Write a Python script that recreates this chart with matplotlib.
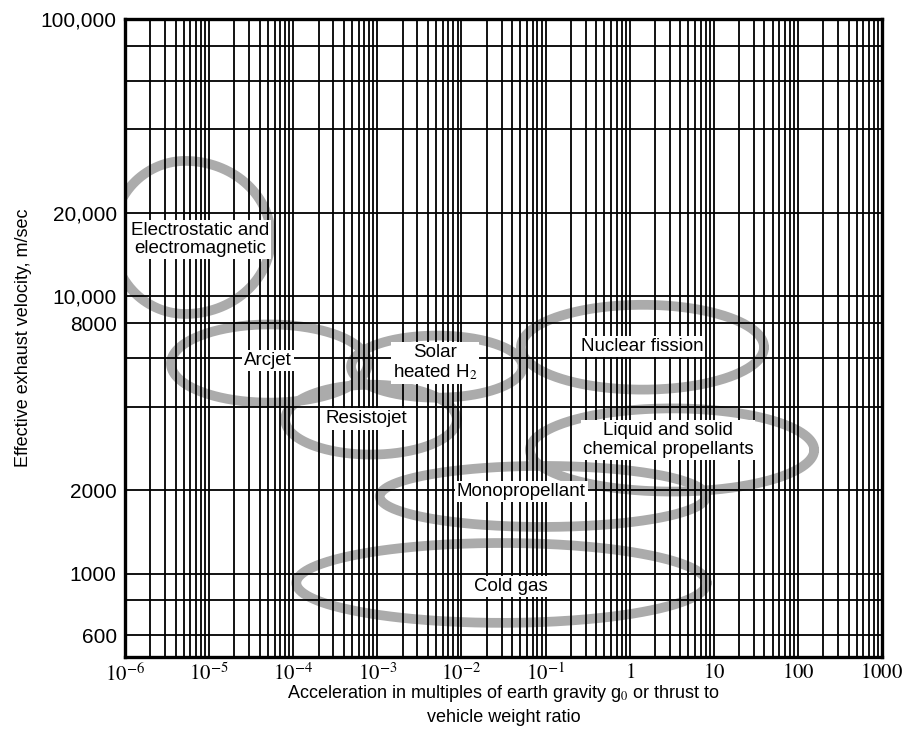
import numpy as np
import matplotlib
matplotlib.use("Agg")
import matplotlib.pyplot as plt
from matplotlib.ticker import LogLocator, NullFormatter

plt.rcParams['font.family'] = ['Liberation Sans', 'DejaVu Sans']
plt.rcParams['mathtext.fontset'] = 'stix'

# propulsion regimes: centre point and half-extent (in decades) of each region
names = ["Electrostatic and\nelectromagnetic", "Arcjet", "Resistojet",
         "Solar\nheated H$_2$", "Nuclear fission",
         "Liquid and solid\nchemical propellants", "Monopropellant", "Cold gas"]
center_acc = [5.2e-6, 5.2e-5, 8.4e-4, 5.1e-3, 1.42, 3.19, 0.093, 0.030]
center_vel = [16300, 5720, 3590, 5575, 6550, 2790, 1897, 925]
half_left = [0.87, 1.17, 1.02, 1.02, 1.445, 1.69, 1.94, 2.44]
half_right = [1.02, 1.17, 1.02, 1.02, 1.445, 1.69, 1.94, 2.44]
half_vert = [0.276, 0.141, 0.126, 0.112, 0.153, 0.150, 0.110, 0.144]

# where each region's name is written
label_acc = [7.8e-6, 5.0e-5, 7.35e-4, 4.85e-3, 1.40, 2.86, 0.0512, 0.0389]
label_vel = [16000, 5860, 3610, 5750, 6580, 3030, 1973, 895]

# axis ticks and grid
x_ticks = [1e-6, 1e-5, 1e-4, 1e-3, 1e-2, 1e-1, 1, 10, 100, 1000]
x_labels = ["$10^{-6}$", "$10^{-5}$", "$10^{-4}$", "$10^{-3}$", "$10^{-2}$",
            "$10^{-1}$", "$1$", "$10$", "$100$", "$1000$"]
y_ticks = [600, 1000, 2000, 8000, 10000, 20000, 100000]
y_labels = ["600", "1000", "2000", "8000", "10,000", "20,000", "100,000"]
y_grid = [600, 800, 1000, 2000, 4000, 6000, 8000, 10000, 20000, 40000, 60000, 80000]

fig = plt.figure(figsize=(9.06, 7.40), dpi=100)
ax = fig.add_axes([125/906, 1-657/740, 757/906, 638/740])
ax.set_xscale('log')
ax.set_yscale('log')
ax.set_xlim(1e-6, 1e3)
ax.set_ylim(500, 1e5)

# vertical grid: every 1..9 subdivision of each decade
ax.xaxis.set_major_locator(plt.FixedLocator(x_ticks))
ax.xaxis.set_minor_locator(LogLocator(base=10, subs=np.arange(2, 10), numticks=20))
ax.xaxis.set_minor_formatter(NullFormatter())
ax.grid(which='both', axis='x', color='black', lw=1.3, zorder=2)
for v in y_grid:
    ax.axhline(v, color='black', lw=1.3, zorder=2)

ax.set_xticks(x_ticks)
ax.set_xticklabels(x_labels, fontsize=15)
ax.set_yticks(y_ticks)
ax.set_yticklabels(y_labels, fontsize=15)
ax.yaxis.set_minor_locator(plt.NullLocator())
ax.tick_params(axis='x', which='both', length=0, pad=4)
ax.tick_params(axis='y', which='both', length=0, pad=6)
for s in ax.spines.values():
    s.set_linewidth(2.4)
    s.set_zorder(5)

# shaded bands around each regime, drawn in log space
t = np.linspace(0, 2*np.pi, 400)
for cx, cy, rl, rr, ry in zip(center_acc, center_vel, half_left, half_right, half_vert):
    r = np.where(np.cos(t) < 0, rl, rr)
    lx = np.log10(cx) + r*np.cos(t)
    ly = np.log10(cy) + ry*np.sin(t)
    ax.plot(10**lx, 10**ly, color='#ababab', lw=7, solid_capstyle='round', zorder=1)

for name, x, y in zip(names, label_acc, label_vel):
    ax.text(x, y, name, ha='center', va='center', fontsize=13.5, zorder=6,
            linespacing=1.1,
            bbox=dict(facecolor='white', edgecolor='none', pad=1.5))

ax.set_xlabel("Acceleration in multiples of earth gravity g$_0$ or thrust to\nvehicle weight ratio",
              fontsize=13, labelpad=-1.5, linespacing=1.4)
ax.set_ylabel("Effective exhaust velocity, m/sec", fontsize=13, labelpad=6)

fig.savefig("out.png", dpi=100)
